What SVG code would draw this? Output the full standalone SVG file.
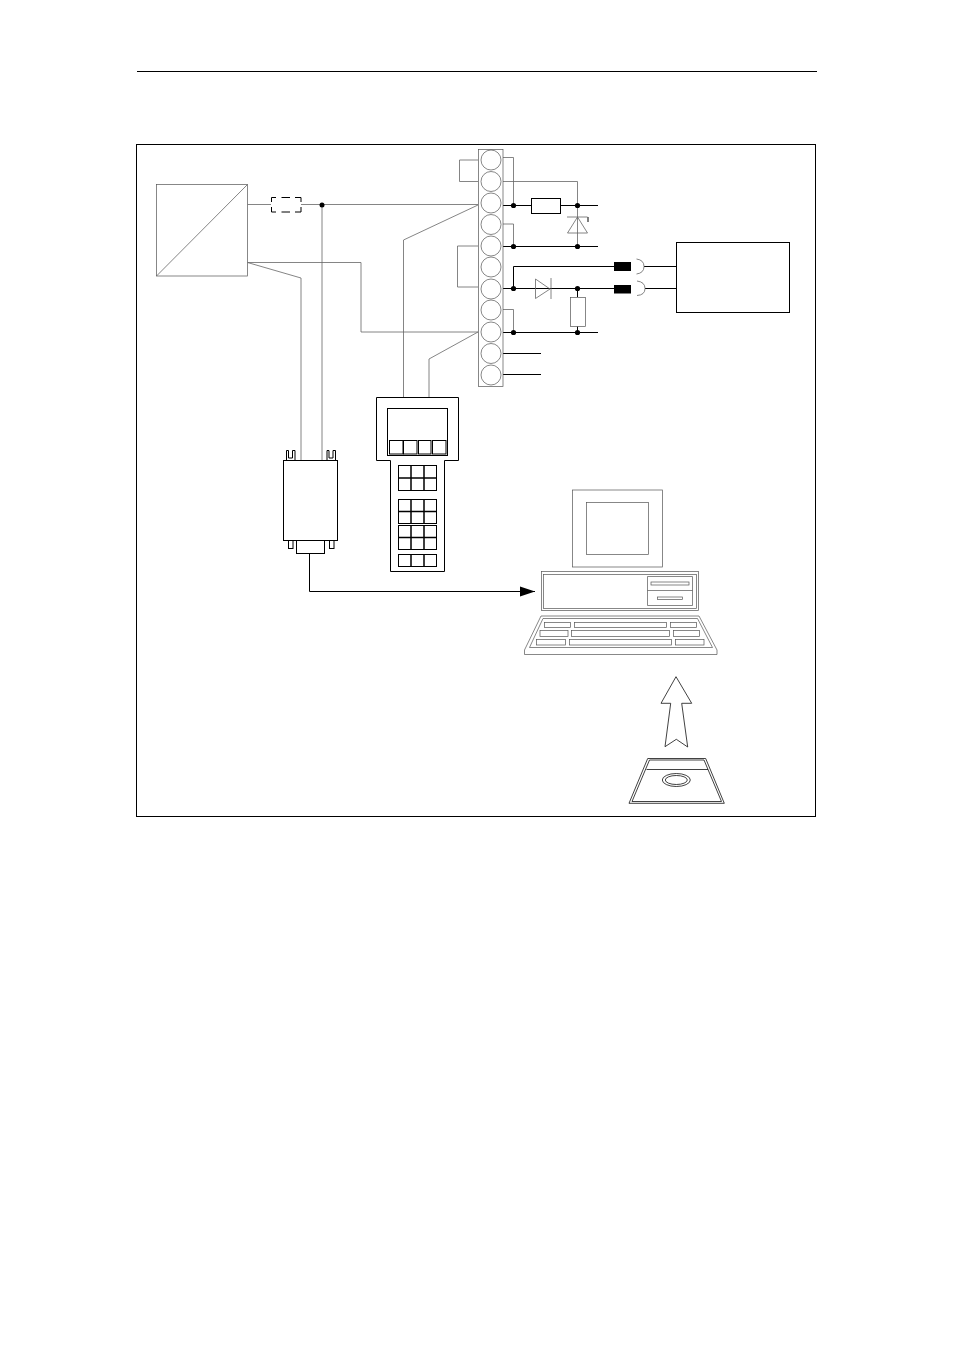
<svg xmlns="http://www.w3.org/2000/svg" width="954" height="1351" viewBox="0 0 954 1351">
<defs>
<marker id="arrow" markerUnits="userSpaceOnUse" markerWidth="16" markerHeight="12" refX="15" refY="5.5" orient="auto"><path d="M0 0.5L15 5.5L0 10.5Z" fill="#000"/></marker>
</defs>
<style>
.k{fill:#fff;stroke:#000;stroke-width:1}
.t{fill:#fff;stroke:#555;stroke-width:.7}
.s{fill:#fff;stroke:#111;stroke-width:.8}
.w{fill:none;stroke:#000;stroke-width:1}
.g{fill:none;stroke:#666;stroke-width:.8}
.b{fill:none;stroke:#000;stroke-width:1.5}
.d{fill:#000;stroke:none}
</style>
<rect width="954" height="1351" fill="#fff"/>
<g id="page-frame">
<path class="w" d="M137 71.5H817"/>
<rect class="w" x="136.5" y="144.5" width="679" height="672"/>
</g>
<g id="connectors">
<path class="g" d="M247.5 204.5H271M301 204.5H478"/>
<path class="g" d="M322 205V460"/>
<path class="g" d="M247.5 262.5H361V332H478"/>
<path class="g" d="M247.5 262.5L301 278V460"/>
<path class="g" d="M478 205L403.5 240V397"/>
<path class="g" d="M478 332L429 359V397"/>
<path class="g" d="M478 160H459.5V181.5H478"/>
<path class="g" d="M478 246H457.5V287H478"/>
<path class="g" d="M503 157.5H513.5V206"/>
<path class="g" d="M503 181.5H577.5V206"/>
<path class="g" d="M503 224H513.5V246.5"/>
<path class="g" d="M503 309.5H513.5V332"/>
<path class="w" d="M503 205.5H531M561 205.5H598"/>
<path class="w" d="M503 246.5H598"/>
<path class="w" d="M513.5 288.5V266.5H614"/>
<path class="w" d="M503 288.5H614"/>
<path class="w" d="M503 332.5H598"/>
<path class="w" d="M503 353.5H541M503 374.5H541"/>
<path class="w" d="M577.5 289V297M577.5 326V332"/>
<path class="g" d="M577.5 206V246.5"/>
<path class="w" d="M644 266.5H676.5M645 288.5H676.5"/>
<path class="w" d="M309.5 554V591.5H535" marker-end="url(#arrow)"/>
<circle class="d" cx="322" cy="205" r="2.5"/>
<circle class="d" cx="513.5" cy="205.5" r="2.6"/>
<circle class="d" cx="577.5" cy="205.5" r="2.6"/>
<circle class="d" cx="513.5" cy="246.5" r="2.6"/>
<circle class="d" cx="577.5" cy="246.5" r="2.6"/>
<circle class="d" cx="513.5" cy="288.5" r="2.6"/>
<circle class="d" cx="577.5" cy="288.5" r="2.6"/>
<circle class="d" cx="513.5" cy="332.5" r="2.6"/>
<circle class="d" cx="577.5" cy="332.5" r="2.6"/>
</g>
<g id="converter">
<rect class="t" x="156.5" y="184.5" width="91" height="91.5"/>
<path class="g" d="M156.5 276L247.5 184.5"/>
</g>
<g id="fuse">
<path class="w" d="M276 197.5H271.5V202M271.5 207V212H276M281.5 212H290M295 212H301V207M301 202V197.5H295M290 197.5H281.5"/>
</g>
<g id="terminal-strip">
<rect class="t" x="478.5" y="149.5" width="24.5" height="237"/>
<g class="t">
<circle cx="491" cy="160" r="10"/><circle cx="491" cy="181.5" r="10"/><circle cx="491" cy="203" r="10"/><circle cx="491" cy="224.5" r="10"/><circle cx="491" cy="246" r="10"/><circle cx="491" cy="267" r="10"/><circle cx="491" cy="289" r="10"/><circle cx="491" cy="310" r="10"/><circle cx="491" cy="332" r="10"/><circle cx="491" cy="353.5" r="10"/><circle cx="491" cy="375" r="10"/>
</g>
</g>
<g id="resistor-1"><rect class="k" x="531.5" y="198.5" width="29" height="15"/></g>
<g id="zener">
<path class="g" d="M577.5 217L567.5 233H587.5Z"/>
<path class="g" d="M567 217H587.5"/>
<path class="w" d="M588 217V222"/>
</g>
<g id="diode">
<path class="g" d="M535.5 279V298.5L550 289Z"/>
<path class="g" d="M551 278V299" stroke-width="1.2"/>
</g>
<g id="resistor-2"><rect class="t" x="570.5" y="297.5" width="15" height="29"/></g>
<g id="plug-1">
<rect class="d" x="614" y="262" width="17" height="9"/>
<path class="g" d="M636.5 259Q644 260 644 266.5T636.5 274"/>
</g>
<g id="plug-2">
<rect class="d" x="614" y="285" width="17" height="8.5"/>
<path class="g" d="M637 281Q645 282 645 288.5T637 295.5"/>
</g>
<g id="load-box"><rect class="k" x="676.5" y="242.5" width="113" height="70"/></g>
<g id="adapter">
<path class="k" d="M286.5 460V450.5H288.5V458H292.5V450.5H295V460"/>
<path class="k" d="M327 460V450.5H329V458H333V450.5H335.5V460"/>
<rect class="k" x="288.5" y="540.5" width="4.5" height="8"/>
<rect class="k" x="329.5" y="540.5" width="4.5" height="8"/>
<rect class="k" x="296.5" y="540.5" width="28" height="13"/>
<rect class="k" x="283.5" y="460.5" width="54" height="80"/>
</g>
<g id="handheld">
<path class="k" d="M376.5 397.5H458.5V460.5H444.5V571.5H390.5V460.5H376.5Z"/>
<rect class="k" x="387.5" y="408.5" width="60" height="47"/>
<rect class="k" x="389.5" y="440.5" width="13.5" height="13.5"/>
<rect class="k" x="403.5" y="440.5" width="13.5" height="13.5"/>
<rect class="k" x="418.5" y="440.5" width="12.5" height="13.5"/>
<rect class="k" x="432.5" y="440.5" width="13.5" height="13.5"/>
<rect class="k" x="398.5" y="465.5" width="38" height="25"/>
<path class="b" d="M411 465.5V490.5M424 465.5V490.5M398.5 478H436.5"/>
<rect class="k" x="398.5" y="499.5" width="38" height="24"/>
<path class="b" d="M411 499.5V523.5M424 499.5V523.5M398.5 511.5H436.5"/>
<rect class="k" x="398.5" y="525.5" width="38" height="24"/>
<path class="b" d="M411 525.5V549.5M424 525.5V549.5M398.5 537.5H436.5"/>
<rect class="k" x="398.5" y="554.5" width="38" height="12"/>
<path class="b" d="M411 554.5V566.5M424 554.5V566.5"/>
</g>
<g id="computer">
<rect class="t" x="572.5" y="490" width="90" height="77"/>
<rect class="t" x="586.5" y="502.5" width="62" height="52"/>
<rect class="t" x="541.5" y="571.5" width="157" height="39"/>
<rect class="t" x="543.5" y="574.5" width="153" height="34"/>
<path class="t" d="M647.5 576.5H692.5V605.5H647.5ZM647.5 590.5H692.5"/>
<rect class="t" x="651" y="582" width="38" height="3"/>
<rect class="t" x="657.5" y="597" width="25" height="2.5"/>
<path class="t" d="M541 616H699L717 650V654.5H524.5V650Z"/>
<path class="t" d="M543 618.5H697.5L712.5 647.5H529.5Z"/>
<g class="t">
<rect x="544.5" y="622.5" width="26" height="5"/><rect x="574.5" y="622.5" width="92" height="5"/><rect x="670.5" y="622.5" width="26" height="5"/>
<rect x="540" y="630.5" width="28" height="6"/><rect x="571.5" y="630.5" width="98" height="6"/><rect x="673.5" y="630.5" width="26" height="6"/>
<rect x="536.5" y="639.5" width="29" height="5.5"/><rect x="569.5" y="639.5" width="102" height="5.5"/><rect x="675.5" y="639.5" width="28.5" height="5.5"/>
</g>
</g>
<g id="upload-arrow">
<path class="s" d="M676 676.7L691.7 703.3H681.7L687.7 747L676.3 739.3L665 746.7L670.7 703.3H661Z"/>
</g>
<g id="floppy">
<path class="s" d="M647.7 758.5H705.7L724.3 803.3H629Z"/>
<path class="s" d="M649.5 760H704L721.5 801.5H632Z"/>
<path class="s" d="M646.5 769.5H708"/>
<ellipse class="s" cx="676.3" cy="780" rx="14" ry="6.5"/>
<ellipse class="s" cx="676.3" cy="780" rx="11" ry="4.5"/>
</g>
</svg>
